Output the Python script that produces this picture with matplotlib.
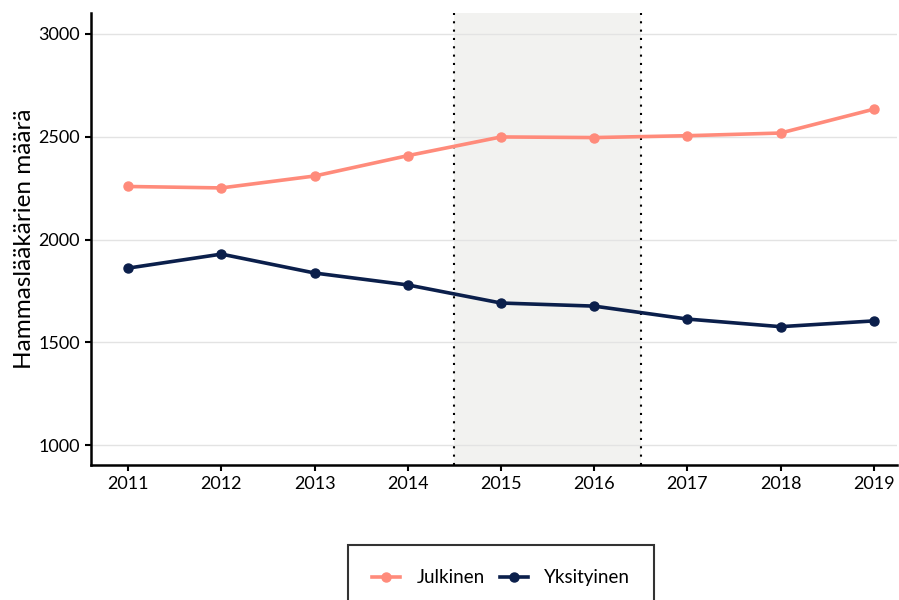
import matplotlib
matplotlib.use("Agg")
import matplotlib.pyplot as plt

years = [2011, 2012, 2013, 2014, 2015, 2016, 2017, 2018, 2019]
julkinen = [2258, 2251, 2309, 2408, 2499, 2496, 2505, 2518, 2634]
yksityinen = [1861, 1929, 1837, 1779, 1691, 1676, 1613, 1576, 1604]
yticks = [1000, 1500, 2000, 2500, 3000]
shade_start, shade_end = 2014.5, 2016.5

plt.rcParams['font.family'] = ['Lato', 'DejaVu Sans']

fig = plt.figure(figsize=(8.99, 6.0), dpi=100)
ax = fig.add_axes([91/899, 135/600, 806/899, 452/600])

ax.axvspan(shade_start, shade_end, color='#f2f2f0', zorder=0, lw=0)
for xv in (shade_start, shade_end):
    ax.axvline(xv, color='black', linestyle=(0, (1, 3)), lw=1.5, zorder=1)

ax.plot(years, julkinen, color='#ff8b7b', lw=2.6, marker='o', ms=6.5, label='Julkinen', zorder=3)
ax.plot(years, yksityinen, color='#0b1f4b', lw=2.6, marker='o', ms=6.5, label='Yksityinen', zorder=3)

ax.set_xlim(2010.6, 2019.25)
ax.set_ylim(903, 3102)
ax.set_xticks(years)
ax.set_xticklabels([str(y) for y in years])
ax.set_yticks(yticks)
ax.yaxis.grid(True, color='#e3e3e3', lw=1, zorder=0)
ax.set_axisbelow(True)

for s in ('top', 'right'):
    ax.spines[s].set_visible(False)
for s in ('left', 'bottom'):
    ax.spines[s].set_linewidth(1.8)
    ax.spines[s].set_color('black')

ax.tick_params(axis='both', direction='out', length=4, width=1.5, colors='black', labelsize=13, pad=4)
ax.set_ylabel('Hammaslääkärien määrä', fontsize=17.5, labelpad=2)

leg = fig.legend(loc='upper center', bbox_to_anchor=(501/899, 1 - 545/600), ncol=2,
                 fontsize=13.5, frameon=True, fancybox=False, edgecolor='black',
                 borderpad=1.3, handlelength=1.5, handletextpad=0.85, columnspacing=0.8,
                 borderaxespad=0)
leg.get_frame().set_linewidth(1.5)

fig.savefig('out.png', dpi=100)
